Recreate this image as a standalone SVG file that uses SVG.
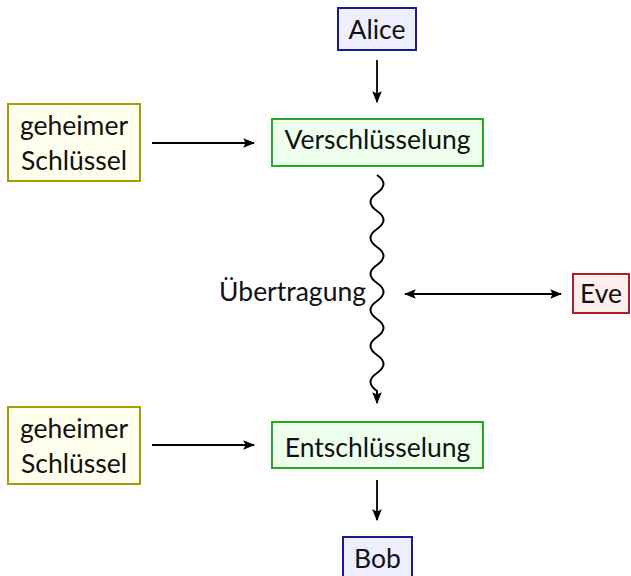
<svg xmlns="http://www.w3.org/2000/svg" width="631" height="576" viewBox="0 0 631 576">
  <defs>
    <marker id="arr" viewBox="0 0 10 10" refX="9" refY="5" markerWidth="12" markerHeight="12" markerUnits="userSpaceOnUse" orient="auto-start-reverse">
      <path d="M0,1 L10,5 L0,9 L2,5 Z" fill="#000"/>
    </marker>
    <style>
      text { font-family: "Lato", "Open Sans", "DejaVu Sans", sans-serif; font-size: 26.5px; fill: #111; text-anchor: middle; }
      .blue { fill: #eeeeff; stroke: #1a1a99; stroke-width: 2; }
      .olive { fill: #ffffee; stroke: #a0a000; stroke-width: 2; }
      .green { fill: #eeffee; stroke: #22aa22; stroke-width: 2; }
      .red { fill: #ffeeee; stroke: #aa2222; stroke-width: 2; }
      .edge { fill: none; stroke: #000; stroke-width: 1.8; }
      .wave { stroke-width: 2; }
    </style>
  </defs>

  <g id="connectors">
    <line class="edge" x1="377" y1="60" x2="377" y2="102" marker-end="url(#arr)"/>
    <line class="edge" x1="152" y1="143" x2="254" y2="143" marker-end="url(#arr)"/>
    <path class="edge wave" d="M377,175 q13,9 0,18 t0,18 t0,18 t0,18 t0,18 t0,18 t0,18 t0,18 t0,18 t0,18 t0,18 t0,18 L377,403" marker-end="url(#arr)"/>
    <line class="edge" x1="405" y1="294" x2="561" y2="294" marker-start="url(#arr)" marker-end="url(#arr)"/>
    <line class="edge" x1="152" y1="445" x2="254" y2="445" marker-end="url(#arr)"/>
    <line class="edge" x1="377" y1="480" x2="377" y2="520" marker-end="url(#arr)"/>
    <text x="366" y="301" style="text-anchor: end">Übertragung</text>
  </g>

  <g id="alice">
    <rect class="blue" x="338" y="8" width="78" height="42"/>
    <text x="377" y="39">Alice</text>
  </g>

  <g id="key1">
    <rect class="olive" x="8" y="104" width="132" height="77"/>
    <text x="74" y="135">geheimer</text>
    <text x="74" y="170">Schlüssel</text>
  </g>

  <g id="encrypt">
    <rect class="green" x="272" y="119" width="211" height="47"/>
    <text x="377.5" y="149">Verschlüsselung</text>
  </g>

  <g id="eve">
    <rect class="red" x="573" y="274" width="56" height="39"/>
    <text x="601" y="303">Eve</text>
  </g>

  <g id="key2">
    <rect class="olive" x="8" y="407" width="132" height="77"/>
    <text x="74" y="438">geheimer</text>
    <text x="74" y="473">Schlüssel</text>
  </g>

  <g id="decrypt">
    <rect class="green" x="272" y="422" width="211" height="46"/>
    <text x="377.5" y="457">Entschlüsselung</text>
  </g>

  <g id="bob">
    <rect class="blue" x="343" y="537" width="69" height="45"/>
    <text x="377.5" y="568">Bob</text>
  </g>
</svg>
